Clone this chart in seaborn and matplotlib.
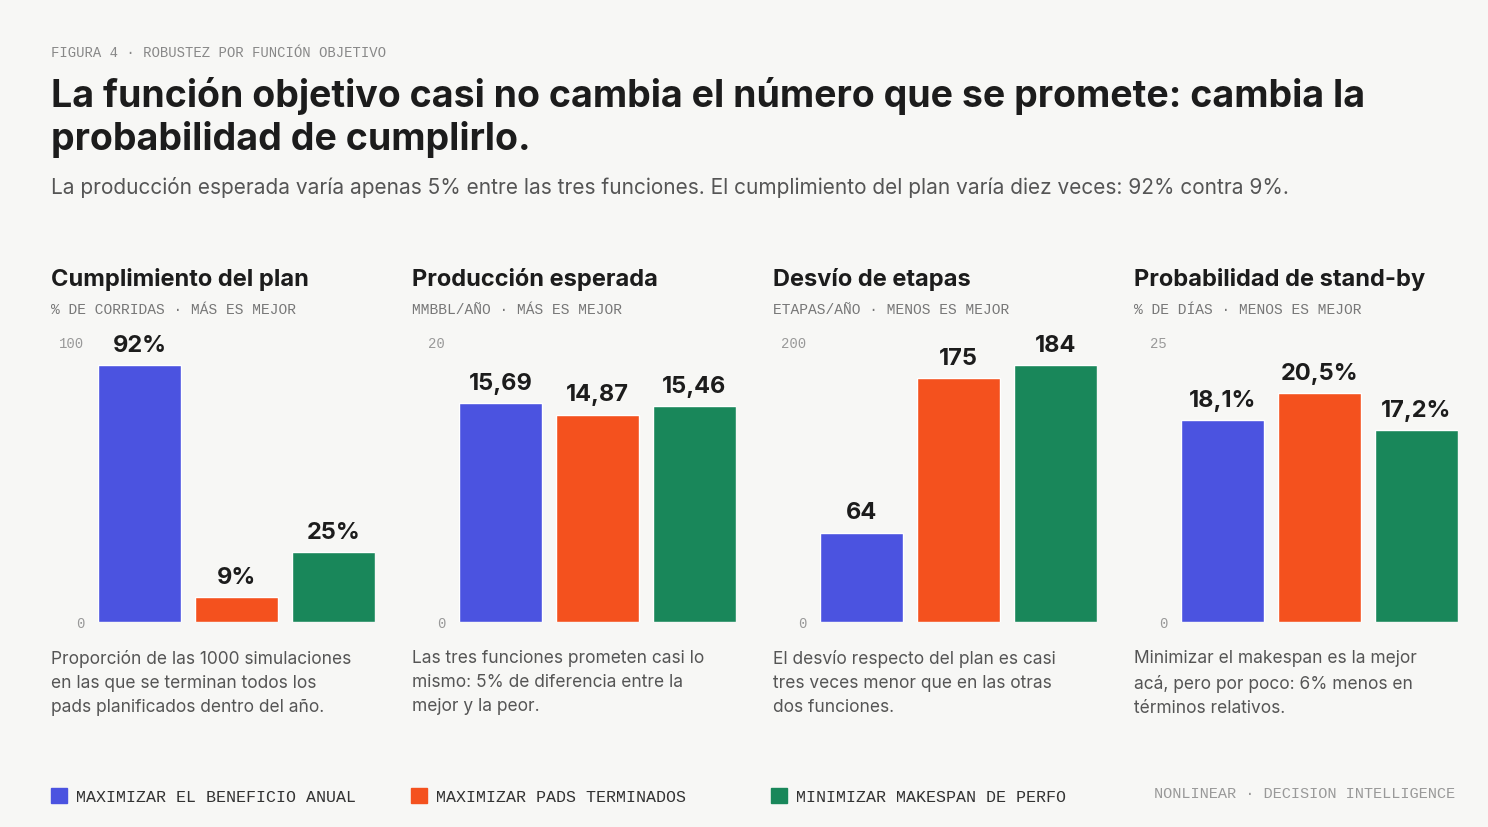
import matplotlib
matplotlib.use("Agg")
import matplotlib.pyplot as plt
import seaborn as sns
import pandas as pd

sns.set_style("white")
plt.rcParams['font.family'] = ['Inter', 'DejaVu Sans']

BG = "#f7f7f5"
COLORS = ["#4b53e0", "#f4511e", "#19875a"]
MONO = "Liberation Mono"

estrategias = ["Maximizar el beneficio anual", "Maximizar pads terminados", "Minimizar makespan de perfo"]
titulos = ["Cumplimiento del plan", "Producción esperada", "Desvío de etapas", "Probabilidad de stand-by"]
unidades = ["% DE CORRIDAS · MÁS ES MEJOR", "MMBBL/AÑO · MÁS ES MEJOR",
            "ETAPAS/AÑO · MENOS ES MEJOR", "% DE DÍAS · MENOS ES MEJOR"]
ymax = [100, 20, 200, 25]
valores = [[92, 9, 25], [15.69, 14.87, 15.46], [64, 175, 184], [18.1, 20.5, 17.2]]
etiquetas = [["92%", "9%", "25%"], ["15,69", "14,87", "15,46"], ["64", "175", "184"],
             ["18,1%", "20,5%", "17,2%"]]
notas = ["Proporción de las 1000 simulaciones\nen las que se terminan todos los\npads planificados dentro del año.",
         "Las tres funciones prometen casi lo\nmismo: 5% de diferencia entre la\nmejor y la peor.",
         "El desvío respecto del plan es casi\ntres veces menor que en las otras\ndos funciones.",
         "Minimizar el makespan es la mejor\nacá, pero por poco: 6% menos en\ntérminos relativos."]

W, H = 1488, 827
fig = plt.figure(figsize=(W / 100, H / 100), dpi=100, facecolor=BG)

def fx(x): return x / W
def fy(y): return 1 - y / H

fig.text(fx(51), fy(53), "FIGURA 4 · ROBUSTEZ POR FUNCIÓN OBJETIVO", family=MONO, fontsize=10,
         color="#888888", va="center")
fig.text(fx(51), fy(96), "La función objetivo casi no cambia el número que se promete: cambia la",
         fontsize=27, weight="bold", color="#1c1c1c", va="center")
fig.text(fx(51), fy(140), "probabilidad de cumplirlo.", fontsize=27, weight="bold", color="#1c1c1c", va="center")
fig.text(fx(51), fy(187), "La producción esperada varía apenas 5% entre las tres funciones. "
         "El cumplimiento del plan varía diez veces: 92% contra 9%.", fontsize=15, color="#555555", va="center")

for i in range(4):
    off = 361 * i
    fig.text(fx(51 + off), fy(280), titulos[i], fontsize=17, weight="bold", color="#1c1c1c", va="center")
    fig.text(fx(51 + off), fy(310), unidades[i], family=MONO, fontsize=10.5, color="#777777", va="center")
    ax = fig.add_axes([fx(98 + off), fy(622), fx(277), fy(343) - fy(622)])
    ax.set_facecolor(BG)
    df = pd.DataFrame({"estrategia": estrategias, "valor": valores[i]})
    sns.barplot(data=df, x="estrategia", y="valor", hue="estrategia", palette=COLORS,
                width=0.86, legend=False, ax=ax, saturation=1)
    ax.set_xlim(-0.43, 2.43)
    ax.set_ylim(0, ymax[i])
    ax.set_xlabel(""); ax.set_ylabel("")
    ax.set_xticks([])
    ax.set_yticks([0, ymax[i]])
    ax.set_yticklabels(["0", str(ymax[i])], family=MONO, fontsize=10, color="#999999")
    ax.tick_params(axis="y", length=0, pad=10)
    sns.despine(ax=ax, left=True, bottom=True)
    for j, v in enumerate(valores[i]):
        ax.annotate(etiquetas[i][j], (j, v), xytext=(0, 6), textcoords="offset points",
                    ha="center", va="bottom", fontsize=17, weight="bold", color="#1c1c1c")
    fig.text(fx(51 + off), fy(650), notas[i], fontsize=12.5, color="#555555", va="top", linespacing=1.55)

leg_x = [51, 411, 771]
for k in range(3):
    fig.patches.append(plt.Rectangle((fx(leg_x[k]), fy(803)), fx(16), fy(788) - fy(803),
                                     transform=fig.transFigure, color=COLORS[k]))
    fig.text(fx(leg_x[k] + 25), fy(797), estrategias[k].upper(), family=MONO, fontsize=12,
             color="#333333", va="center")
fig.text(fx(1455), fy(794), "NONLINEAR · DECISION INTELLIGENCE", family=MONO, fontsize=11,
         color="#999999", va="center", ha="right")

fig.savefig("out.png", dpi=100, facecolor=BG)
